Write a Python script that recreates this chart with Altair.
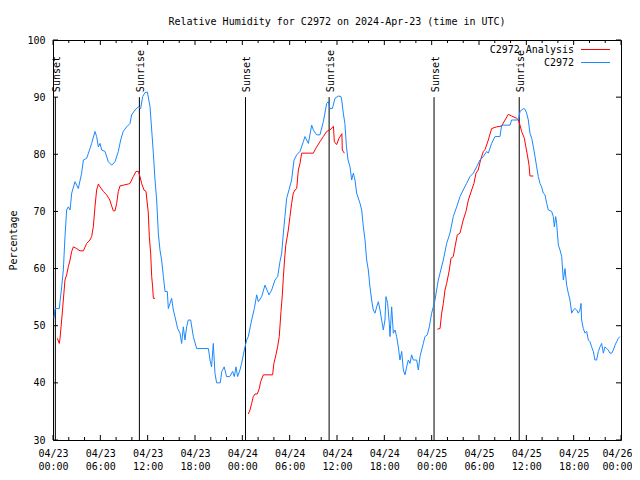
import json
import altair as alt
import pandas as pd

MONO = "DejaVu Sans Mono"
RED = "#ff0000"
BLUE = "#1a88ff"

TITLE = "Relative Humidity for C2972 on 2024-Apr-23 (time in UTC)"
Y_TITLE = "Percentage"
SERIES_ANA = "C2972 Analysis"
SERIES_OBS = "C2972"

# hours since 2024-04-23 00:00 UTC
obs_hours = [0.13, 0.25, 0.80, 0.89, 1.10, 1.31, 1.52, 1.73, 1.94, 2.16, 2.37, 2.79, 3.21, 3.63, 3.85,
             4.27, 4.69, 4.90, 5.32, 5.53, 5.75, 5.96, 6.17, 6.59, 7.01, 7.44, 7.86, 8.28, 8.58, 8.90,
             9.34, 9.76, 9.97, 10.40, 10.82, 11.11, 11.37, 11.66, 11.96, 12.30, 12.51, 12.72, 12.93,
             13.14, 13.35, 13.56, 13.77, 13.99, 14.20, 14.49, 14.62, 14.83, 15.04, 15.25, 15.46, 15.80,
             16.10, 16.31, 16.52, 16.73, 16.94, 17.15, 17.45, 17.79, 18.21, 19.70, 19.90, 20.10, 20.32,
             20.53, 20.74, 21.20, 21.40, 21.70, 22.00, 22.40, 22.77, 22.98, 23.20, 23.40, 23.70, 23.91,
             24.25, 24.55, 24.76, 25.18, 25.52, 25.82, 26.03, 26.45, 26.87, 27.38, 27.72, 28.14, 28.48,
             28.77, 28.99, 29.20, 29.40, 29.62, 29.91, 30.25, 30.55, 30.89, 31.31, 31.73, 31.94, 32.37,
             32.79, 33.00, 33.42, 33.84, 34.27, 34.69, 34.90, 35.11, 35.41, 35.75, 36.17, 36.50, 36.60,
             36.80, 37.00, 37.20, 37.40, 37.65, 37.86, 38.07, 38.28, 38.49, 38.92, 39.13, 39.34, 39.55,
             39.76, 39.97, 40.18, 40.39, 40.60, 40.82, 41.03, 41.24, 41.45, 41.66, 41.87, 42.08, 42.21,
             42.42, 42.63, 42.72, 42.93, 43.14, 43.35, 43.56, 43.77, 43.98, 44.20, 44.41, 44.62, 44.83,
             45.04, 45.25, 45.46, 45.67, 46.10, 46.31, 46.52, 46.73, 46.94, 47.15, 47.45, 47.70, 48.00,
             48.21, 48.42, 48.63, 48.84, 49.06, 49.48, 49.90, 50.32, 50.74, 51.17, 51.59, 52.00, 52.43,
             52.86, 53.28, 53.70, 54.12, 54.55, 54.97, 55.18, 55.60, 56.03, 56.66, 56.87, 57.93, 58.14,
             58.99, 59.20, 59.62, 59.83, 60.04, 60.25, 60.46, 60.68, 60.89, 61.10, 61.31, 61.52, 61.73,
             61.94, 62.15, 62.37, 62.58, 62.79, 63.21, 63.42, 63.55, 63.72, 63.84, 64.06, 64.27, 64.48,
             64.69, 64.90, 65.11, 65.32, 65.53, 65.75, 65.96, 66.17, 66.38, 66.59, 66.80, 66.93, 67.01,
             67.22, 67.44, 67.65, 67.86, 68.07, 68.28, 68.49, 68.70, 68.91, 69.13, 69.34, 69.55, 69.76,
             69.97, 70.18, 70.39, 70.60, 70.81, 71.03, 71.24, 71.45, 71.66, 71.87]
obs_values = [51.3, 53.0, 53.0, 54.2, 56.8, 59.75, 65.6, 70.25, 70.8, 70.25, 73.2, 75.2, 74.0, 76.7, 79.0,
              79.3, 81.0, 81.9, 84.0, 83.1, 81.3, 81.9, 80.75, 80.5, 78.7, 78.1, 78.7, 80.5, 82.5, 84.0,
              84.8, 85.4, 86.9, 87.75, 88.3, 88.0, 90.1, 90.8, 90.9, 88.3, 84.25, 80.2, 75.5,
              72.0, 66.2, 63.25, 61.5, 58.6, 56.0, 56.0, 53.0, 53.9, 54.8, 52.75, 51.6, 49.5,
              48.7, 46.9, 49.8, 47.5, 49.8, 51.0, 51.0, 48.1, 46.0, 46.0, 44.0, 42.8, 46.9,
              41.7, 40.0, 40.0, 42.0, 42.8, 41.1, 41.1, 42.0, 41.1, 42.8, 41.1, 42.25, 43.4,
              45.75, 47.5, 48.1, 51.0, 53.0, 55.4, 54.2, 55.1, 57.1, 55.4, 56.25, 58.0, 58.6,
              61.2, 62.7, 66.2, 69.1, 72.3, 73.75, 75.5, 79.0, 79.9, 80.5, 82.2, 83.1, 81.9,
              85.1, 84.25, 83.4, 83.4, 85.7, 88.9, 89.2, 88.0, 88.0, 89.8, 90.2, 90.1, 89.5,
              87.2, 85.4, 81.3, 79.0, 77.8, 75.5, 76.7, 75.5, 73.2, 71.4, 70.25, 67.3, 65.0,
              61.5, 59.75, 56.8, 54.5, 52.75, 52.2, 53.3, 54.2, 52.75, 51.0, 49.25, 51.0, 55.1,
              53.9, 50.4, 48.1, 53.3, 48.7, 49.25, 48.1, 46.3, 44.0, 45.5, 42.25, 41.4, 42.8,
              44.0, 43.4, 44.9, 44.0, 44.0, 42.25, 44.6, 45.75, 46.9, 48.1, 48.4, 49.8, 52.2,
              53.3, 54.5, 56.25, 58.0, 59.2, 61.5, 64.4, 66.2, 69.1, 70.8, 72.6, 73.75, 74.9,
              76.1, 76.7, 77.8, 79.0, 79.6, 80.5, 80.2, 81.9, 83.1, 83.1, 85.1, 85.1, 86.0,
              86.0, 87.5, 88.0, 87.9, 87.2, 86.0, 83.7, 82.8, 81.3, 79.6, 77.8, 76.1, 74.9,
              74.3, 73.2, 72.9, 71.4, 70.25, 70.0, 69.1, 67.3, 69.1, 67.9, 64.1, 63.25, 62.1,
              58.0, 60.0, 57.1, 55.7, 54.5, 52.2, 52.75, 53.0, 52.75, 52.2, 52.75, 53.9, 51.0,
              49.5, 48.7, 49.0, 47.5, 47.2, 46.3, 45.5, 44.0, 44.0, 45.5, 46.3, 46.9, 45.2,
              46.3, 46.0, 45.75, 45.2, 45.2, 45.75, 46.6, 47.2, 47.8, 48.1]

ana1_hours = [0.55, 0.80, 0.89, 1.10, 1.31, 1.52, 1.73, 1.94, 2.16, 2.37, 2.58, 3.00, 3.42, 3.85, 4.27,
              4.69, 4.90, 5.11, 5.32, 5.53, 5.75, 5.96, 6.38, 6.80, 7.20, 7.40, 7.65, 7.86, 8.07, 8.28,
              8.49, 8.90, 9.55, 9.76, 10.18, 10.52, 10.82, 11.03, 11.24, 11.53, 11.79, 12.08, 12.21,
              12.38, 12.51, 12.63, 12.72, 12.93]
ana1_values = [47.8, 46.9, 47.8, 51.0, 54.5, 58.0, 58.9, 60.3, 61.5, 63.0, 63.8, 63.5, 63.1, 63.1, 64.4,
               65.0, 65.6, 67.3, 70.8, 73.75, 74.8, 74.3, 73.5, 72.9, 72.0, 71.1, 70.1, 70.1, 71.4, 73.5,
               74.45, 74.6, 74.8, 74.9, 76.1, 77.0, 77.0, 76.1, 74.9, 73.75, 73.5, 69.7, 65.6,
               62.7, 58.6, 56.8, 54.8, 54.8]
ana2_hours = [24.76, 24.97, 25.18, 25.39, 25.60, 25.90, 26.15, 26.32, 26.66, 27.84, 28.00, 28.26, 28.47,
              28.68, 28.90, 29.07, 29.20, 29.35, 29.50, 29.62, 29.83, 30.04, 30.25, 30.46, 30.68, 30.89,
              31.10, 31.31, 31.52, 33.00, 33.30, 33.84, 34.27, 34.69, 35.11, 35.55, 35.66, 35.96, 36.25,
              36.62, 36.67, 36.93]
ana2_values = [34.55, 35.25, 36.4, 37.6, 38.05, 38.05, 39.0, 40.2, 41.4, 41.4, 43.4, 44.9, 46.3,
               48.1, 52.5, 55.4, 58.5, 61.5, 64.0, 65.0, 66.75, 69.1, 71.4, 73.2, 73.75, 74.0,
               77.25, 78.4, 80.2, 80.2, 81.0, 82.2, 83.1, 84.0, 84.25, 84.9, 82.2, 81.7, 82.8,
               83.6, 80.75, 80.2]
ana3_hours = [48.72, 49.06, 49.27, 49.48, 49.69, 49.90, 50.24, 50.45, 50.74, 50.96, 51.25, 51.59, 52.00,
              52.35, 52.65, 53.07, 53.36, 53.62, 53.90, 54.20, 54.55, 54.76, 55.18, 55.60, 56.24, 56.87,
              57.30, 57.72, 58.14, 58.77, 58.99, 59.20, 59.40, 59.75, 59.90, 60.13, 60.34, 60.46, 60.89]
ana3_values = [49.4, 49.5, 52.2, 53.9, 56.25, 57.4, 59.75, 61.8, 62.1, 63.8, 65.9, 66.2, 68.5,
               70.0, 72.0, 73.75, 74.9, 76.7, 77.25, 79.0, 80.5, 80.8, 82.5, 84.5, 84.8, 84.95,
               86.0, 87.0, 86.7, 86.3, 86.0, 85.1, 84.0, 82.8, 81.6, 79.9, 78.1, 76.2, 76.2]

event_hours = [0.3, 10.95, 24.4, 35.0, 48.3, 59.1]
event_labels = ["Sunset", "Sunrise", "Sunset", "Sunrise", "Sunset", "Sunrise"]
event_top = 90

x_tick_hours = list(range(0, 73, 6))
x_tick_labels = [["04/23", "00:00"], ["04/23", "06:00"], ["04/23", "12:00"], ["04/23", "18:00"],
                 ["04/24", "00:00"], ["04/24", "06:00"], ["04/24", "12:00"], ["04/24", "18:00"],
                 ["04/25", "00:00"], ["04/25", "06:00"], ["04/25", "12:00"], ["04/25", "18:00"],
                 ["04/26", "00:00"]]
x_minor_hours = [h for h in range(0, 73, 2) if h % 6]
y_ticks = [30, 40, 50, 60, 70, 80, 90, 100]

# ---------------- tables ----------------
obs_df = pd.DataFrame({"hour": obs_hours, "value": obs_values})
ana_df = pd.concat([
    pd.DataFrame({"hour": h, "value": v, "seg": i})
    for i, (h, v) in enumerate([(ana1_hours, ana1_values), (ana2_hours, ana2_values), (ana3_hours, ana3_values)])
], ignore_index=True)
ev_df = pd.DataFrame({"hour": event_hours, "label": event_labels})
xmaj_df = pd.DataFrame({"hour": x_tick_hours})
xmin_df = pd.DataFrame({"hour": x_minor_hours})
ytk_df = pd.DataFrame({"value": y_ticks})
leg_df = pd.DataFrame({"name": [SERIES_ANA, SERIES_OBS]})

W, H = 568, 400
label_expr = " : ".join(
    f"datum.value == {h} ? {json.dumps(lbl)}" for h, lbl in zip(x_tick_hours, x_tick_labels)
) + " : ''"
last_tick = x_tick_hours[-1]

xs = alt.Scale(domain=[0, 72], nice=False, zero=False)
ys = alt.Scale(domain=[30, 100], nice=False, zero=False)
xaxis = alt.Axis(values=x_tick_hours, labelExpr=label_expr, ticks=False, domain=False, grid=False,
                 title=None, labelPadding=8, labelBaseline="top", labelLineHeight=13, labelAlign="center",
                 labelOffset={"condition": {"test": f"datum.value == {last_tick}", "value": -4}, "value": 0},
                 labelFlush=False, labelOverlap=False, labelFontSize=10, labelFont=MONO, labelColor="black")
yaxis = alt.Axis(values=y_ticks, ticks=False, domain=False, grid=False, title=Y_TITLE,
                 labelPadding=8, labelFontSize=10, labelFont=MONO, labelColor="black",
                 labelFlush=False, labelOverlap=False,
                 titleFont=MONO, titleFontSize=10, titleFontWeight="normal", titleColor="black",
                 titleX=-40, titleY=H / 2, titleAngle=270, titleBaseline="middle", titleAlign="center")


def ex():
    return alt.X("hour:Q", scale=xs, axis=xaxis)


def ey():
    return alt.Y("value:Q", scale=ys, axis=yaxis)


def ydat(v):
    return alt.YDatum(v, type="quantitative", scale=ys, axis=yaxis)


def xdat(v):
    return alt.XDatum(v, type="quantitative", scale=xs, axis=xaxis)


ana = alt.Chart(ana_df).mark_line(color=RED, strokeWidth=1).encode(x=ex(), y=ey(), detail="seg:N")
obs = alt.Chart(obs_df).mark_line(color=BLUE, strokeWidth=1).encode(x=ex(), y=ey())

ev_rule = alt.Chart(ev_df).mark_rule(color="black", strokeWidth=1).encode(
    x=ex(), y=ydat(30), y2=alt.Y2Datum(event_top))
ev_text = alt.Chart(ev_df).mark_text(angle=270, align="left", baseline="middle", dx=5, dy=2,
                                     fontSize=10, font=MONO, color="black").encode(
    x=ex(), y=ydat(event_top), text="label:N")

tick = dict(color="black", strokeWidth=1)
bmaj = alt.Chart(xmaj_df).mark_rule(**tick).encode(x=ex(), y=ydat(30), y2=alt.value(H - 5))
tmaj = alt.Chart(xmaj_df).mark_rule(**tick).encode(x=ex(), y=ydat(100), y2=alt.value(5))
bmin = alt.Chart(xmin_df).mark_rule(**tick).encode(x=ex(), y=ydat(30), y2=alt.value(H - 3))
tmin = alt.Chart(xmin_df).mark_rule(**tick).encode(x=ex(), y=ydat(100), y2=alt.value(3))
lt = alt.Chart(ytk_df).mark_rule(**tick).encode(y=ey(), x=xdat(0), x2=alt.value(5))
rt = alt.Chart(ytk_df).mark_rule(**tick).encode(y=ey(), x=xdat(72), x2=alt.value(W - 5))

leg_colors = [RED, BLUE]
leg_layers = []
for i, c in enumerate(leg_colors):
    row = leg_df.iloc[[i]]
    yy = 9.5 + 13 * i
    leg_layers.append(alt.Chart(row).mark_text(align="right", baseline="middle", fontSize=10, font=MONO,
                                               color="black").encode(
        text="name:N", x=alt.value(521), y=alt.value(yy)))
    leg_layers.append(alt.Chart(row).mark_rule(color=c, strokeWidth=1).encode(
        x=alt.value(528), x2=alt.value(557), y=alt.value(yy)))

chart = alt.layer(
    bmaj, tmaj, bmin, tmin, lt, rt, ev_rule, ev_text, ana, obs, *leg_layers
).properties(
    width=W, height=H,
    title=alt.TitleParams(TITLE, font=MONO, fontSize=10, fontWeight="normal", color="black",
                          anchor="middle", frame="group", offset=0, baseline="alphabetic"),
    autosize=alt.AutoSizeParams(type="none"),
    padding={"left": 45, "top": 32, "right": 11, "bottom": 32},
).configure(font=MONO).configure_view(stroke="black", strokeWidth=1)

chart.save("out.html", embed_options={"renderer": "svg", "actions": False})
